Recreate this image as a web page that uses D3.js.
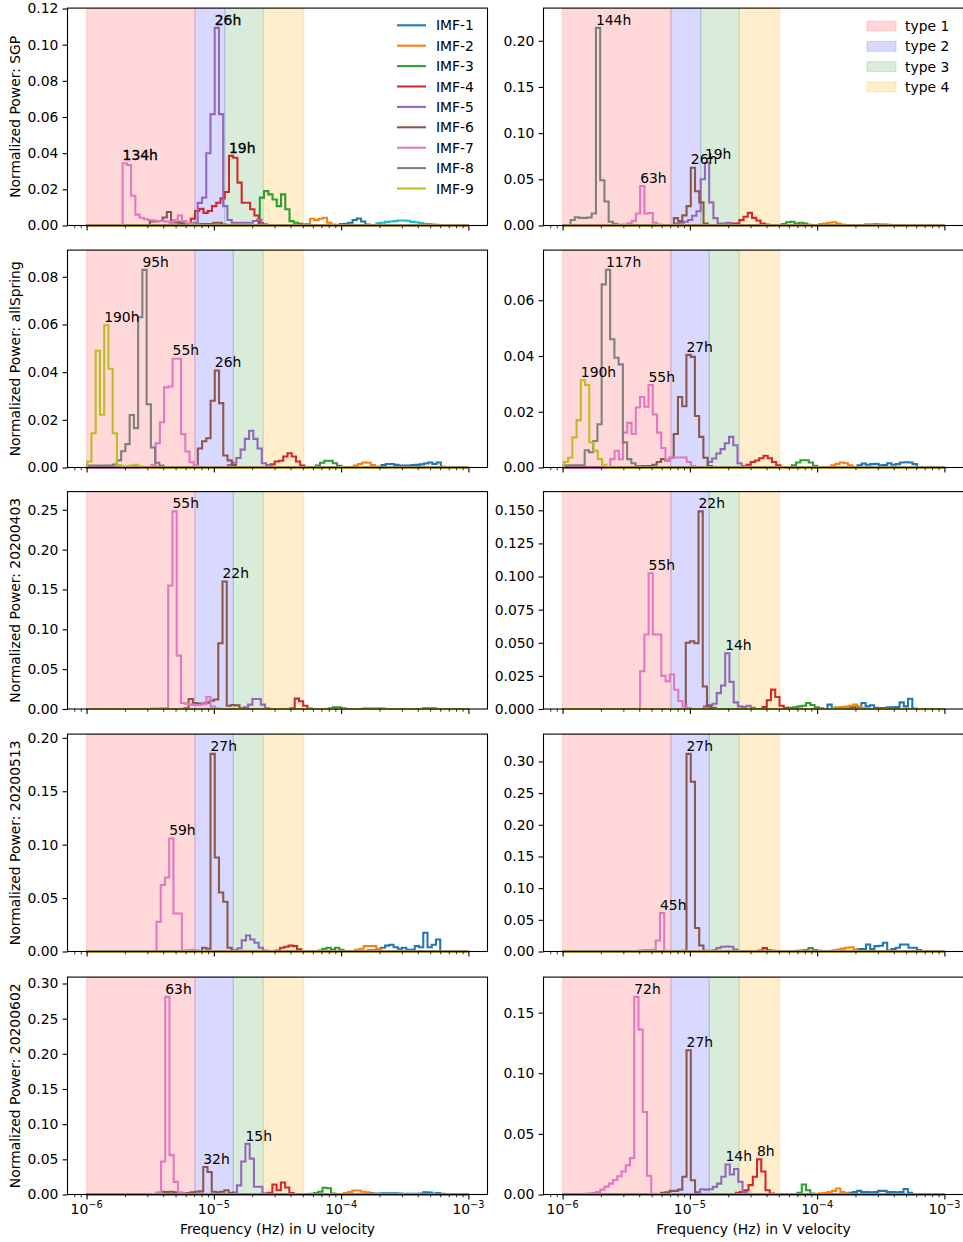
<!DOCTYPE html>
<html>
<head>
<meta charset="utf-8">
<script src="https://cdn.jsdelivr.net/npm/d3@7"></script>
<style>
body { margin: 0; background: #fff; }
svg text { font-family: "DejaVu Sans", sans-serif; fill: #000; }
</style>
</head>
<body>
<div id="chart"></div>
<script>
// ---------------- data ----------------
var imfNames = ["IMF-1", "IMF-2", "IMF-3", "IMF-4", "IMF-5", "IMF-6", "IMF-7", "IMF-8", "IMF-9"];
var imfColors = ["#1f77b4", "#ff7f0e", "#2ca02c", "#d62728", "#9467bd", "#8c564b", "#e377c2", "#7f7f7f", "#bcbd22", "#17becf"];
var rowNames = ["SGP", "allSpring", "20200403", "20200513", "20200602"];

var bandNames = ["type 1", "type 2", "type 3", "type 4"];
var bandColors = ["red", "blue", "green", "orange"];
var bandAlpha = [0.15, 0.15, 0.15, 0.2];
var bandEdgesSGP = [1e-6, 7.1e-6, 1.22e-5, 2.44e-5, 5.09e-5];
var bandEdges = [1e-6, 7.1e-6, 1.42e-5, 2.44e-5, 5.09e-5];

// histogram bins are 1/30 decade wide; start = log10 of first bin's left edge
var binWidth = 1 / 30;

var sgpU = [
    {imf: 10, start: -3.723, v: [0.0012, 0.0015, 0.002, 0.0022, 0.0024, 0.0028, 0.0028, 0.0026, 0.002, 0.0018, 0.0014, 0.001, 0.0008, 0.0006, 0.0004]},
    {imf: 1, start: -4.010, v: [0.0008, 0.001, 0.0015, 0.003, 0.0039, 0.0022, 0.0005]},
    {imf: 2, start: -4.277, v: [0.0008, 0.0037, 0.003, 0.0037, 0.0043, 0.0015, 0.0005]},
    {imf: 3, start: -4.639, v: [0.0154, 0.019, 0.0172, 0.0144, 0.0107, 0.0172, 0.009, 0.0024, 0.0015, 0.001, 0.0005]},
    {imf: 4, start: -5.348, v: [0.0005, 0.0005, 0.0005, 0.0005, 0.0005, 0.0037, 0.008, 0.0092, 0.007, 0.008, 0.0107, 0.0126, 0.015, 0.0185, 0.0385, 0.0375, 0.0237, 0.0126, 0.0126, 0.009, 0.0055, 0.0013, 0.0005]},
    {imf: 5, start: -5.160, v: [0.0015, 0.0125, 0.0154, 0.040, 0.0616, 0.1093, 0.0616, 0.0107, 0.003, 0.0015, 0.0015, 0.0015, 0.0015, 0.0015, 0.0025, 0.0033, 0.0005]},
    {imf: 6, start: -5.503, v: [0.0022, 0.0022, 0.0025, 0.0044, 0.0075, 0.0028, 0.002, 0.0012, 0.0008, 0.0008, 0.0008, 0.0008, 0.0008, 0.0008, 0.0008, 0.0015, 0.0015, 0.0005]},
    {imf: 7, start: -5.717, v: [0.0344, 0.0335, 0.0165, 0.006, 0.0043, 0.0035, 0.003, 0.0028, 0.0025, 0.0025, 0.0022, 0.002, 0.0025, 0.0055, 0.0025, 0.0012, 0.0008, 0.0005, 0.0003]}
];
var sgpV = [
    {imf: 1, start: -3.657, v: [0.0005, 0.001, 0.001, 0.0012, 0.001, 0.001, 0.0008, 0.0005]},
    {imf: 2, start: -3.984, v: [0.0015, 0.002, 0.003, 0.0036, 0.002, 0.001]},
    {imf: 3, start: -4.277, v: [0.0015, 0.0035, 0.004, 0.002, 0.003, 0.002, 0.0007]},
    {imf: 4, start: -4.678, v: [0.002, 0.002, 0.0058, 0.0094, 0.0137, 0.0083, 0.0054, 0.002, 0.001]},
    {imf: 5, start: -5.115, v: [0.002, 0.003, 0.004, 0.006, 0.0105, 0.0155, 0.05, 0.068, 0.025, 0.008, 0.002, 0.002, 0.003, 0.0008]},
    {imf: 6, start: -5.126, v: [0.008, 0.0047, 0.011, 0.021, 0.0626, 0.037, 0.025, 0.002, 0.0005]},
    {imf: 7, start: -5.524, v: [0.001, 0.0025, 0.005, 0.013, 0.0427, 0.013, 0.0135, 0.003, 0.001]},
    {imf: 8, start: -5.938, v: [0.006, 0.009, 0.0083, 0.0083, 0.0087, 0.013, 0.214, 0.049, 0.026, 0.004, 0.0018, 0.0007]}
];
var springU = [
    {imf: 1, start: -3.683, v: [0.001, 0.0015, 0.0015, 0.0011, 0.0008, 0.0008, 0.0008, 0.001, 0.0011, 0.0013, 0.0017, 0.0021, 0.0015, 0.0021, 0.0003]},
    {imf: 2, start: -3.901, v: [0.0008, 0.0015, 0.0021, 0.002, 0.001, 0.0004]},
    {imf: 3, start: -4.199, v: [0.0008, 0.002, 0.0028, 0.0028, 0.0018, 0.0007]},
    {imf: 4, start: -4.555, v: [0.0013, 0.0025, 0.0028, 0.0046, 0.006, 0.0046, 0.0025, 0.0008]},
    {imf: 5, start: -4.890, v: [0.001, 0.002, 0.004, 0.0075, 0.012, 0.0154, 0.012, 0.008, 0.0018, 0.001]},
    {imf: 6, start: -5.126, v: [0.008, 0.011, 0.0123, 0.028, 0.0407, 0.027, 0.005, 0.003, 0.001]},
    {imf: 7, start: -5.491, v: [0.001, 0.0102, 0.019, 0.0336, 0.034, 0.0456, 0.0456, 0.014, 0.0067, 0.0022, 0.0008]},
    {imf: 8, start: -5.995, v: [0.0008, 0.0008, 0.0008, 0.0008, 0.0008, 0.0008, 0.0012, 0.003, 0.0068, 0.0098, 0.022, 0.0165, 0.063, 0.0829, 0.0265, 0.0084, 0.002, 0.0008]},
    {imf: 9, start: -5.995, v: [0.0025, 0.0144, 0.049, 0.0221, 0.0597, 0.0414, 0.0144, 0.001, 0.0005, 0.0005, 0.0008, 0.0011, 0.0005]}
];
var springV = [
    {imf: 1, start: -3.683, v: [0.0008, 0.0014, 0.001, 0.0012, 0.0013, 0.0008, 0.0009, 0.0015, 0.001, 0.0012, 0.0018, 0.0019, 0.0018, 0.0012, 0.0002]},
    {imf: 2, start: -3.890, v: [0.0008, 0.0013, 0.0018, 0.0015, 0.0008]},
    {imf: 3, start: -4.199, v: [0.0008, 0.0018, 0.0026, 0.0026, 0.0018, 0.0006]},
    {imf: 4, start: -4.555, v: [0.001, 0.002, 0.0025, 0.0033, 0.0042, 0.0033, 0.002, 0.0008]},
    {imf: 5, start: -4.859, v: [0.002, 0.0032, 0.005, 0.0066, 0.0087, 0.011, 0.008, 0.0015, 0.0005]},
    {imf: 6, start: -5.427, v: [0.0005, 0.0005, 0.0005, 0.0005, 0.001, 0.002, 0.003, 0.0025, 0.0035, 0.012, 0.0253, 0.022, 0.0404, 0.0397, 0.0185, 0.011, 0.0035, 0.0005]},
    {imf: 7, start: -5.625, v: [0.003, 0.006, 0.003, 0.0125, 0.016, 0.012, 0.0215, 0.0253, 0.0218, 0.0296, 0.019, 0.0125, 0.007, 0.0025, 0.0035, 0.0036, 0.0036, 0.0036, 0.002, 0.0005]},
    {imf: 8, start: -5.993, v: [0.0008, 0.0008, 0.0008, 0.0008, 0.0008, 0.0062, 0.0055, 0.0095, 0.0155, 0.0657, 0.0709, 0.046, 0.0394, 0.037, 0.009, 0.003, 0.0015, 0.0005]},
    {imf: 9, start: -5.990, v: [0.002, 0.0035, 0.0108, 0.017, 0.0313, 0.0296, 0.009, 0.006, 0.003, 0.001]}
];
var d0403U = [
    {imf: 1, start: -3.356, v: [0.0008, 0.001, 0.0008]},
    {imf: 2, start: -3.827, v: [0.0008, 0.0008, 0.0008, 0.0008, 0.0008]},
    {imf: 3, start: -4.099, v: [0.001, 0.002, 0.002, 0.001]},
    {imf: 4, start: -4.398, v: [0.001, 0.013, 0.0097, 0.004, 0.0005]},
    {imf: 5, start: -4.764, v: [0.002, 0.0055, 0.0126, 0.0126, 0.0055, 0.001]},
    {imf: 6, start: -5.232, v: [0.001, 0.0126, 0.0076, 0.0067, 0.0067, 0.008, 0.0105, 0.012, 0.0825, 0.16, 0.004, 0.005, 0.0045, 0.001]},
    {imf: 7, start: -5.492, v: [0.0005, 0.0005, 0.0008, 0.001, 0.155, 0.248, 0.067, 0.0076, 0.0065, 0.0055, 0.005, 0.005, 0.006, 0.015, 0.003, 0.0005]}
];
var d0403V = [
    {imf: 1, start: -3.919, v: [0.0033, 0.001, 0.001, 0.001, 0.0012, 0.0015, 0.0015, 0.0012, 0.0045, 0.002, 0.0028, 0.001, 0.0008, 0.0008, 0.0012, 0.0012, 0.0015, 0.005, 0.002, 0.0078, 0.0003]},
    {imf: 2, start: -3.885, v: [0.0008, 0.0012, 0.0015, 0.0018, 0.0025, 0.0033, 0.002, 0.0008]},
    {imf: 3, start: -4.220, v: [0.001, 0.0013, 0.002, 0.0025, 0.0045, 0.003, 0.0012, 0.0005]},
    {imf: 4, start: -4.429, v: [0.0015, 0.0066, 0.0146, 0.009, 0.0025, 0.001]},
    {imf: 5, start: -4.889, v: [0.002, 0.003, 0.004, 0.012, 0.0177, 0.042, 0.0205, 0.005, 0.002, 0.0015, 0.0025, 0.001]},
    {imf: 6, start: -5.032, v: [0.05, 0.0512, 0.0497, 0.1492, 0.017, 0.002, 0.001]},
    {imf: 7, start: -5.391, v: [0.0285, 0.0563, 0.1025, 0.0563, 0.0563, 0.025, 0.021, 0.026, 0.0145, 0.006, 0.002, 0.0008]}
];
var d0513U = [
    {imf: 1, start: -3.788, v: [0.0012, 0.0012, 0.0018, 0.0035, 0.0055, 0.0063, 0.004, 0.0025, 0.0035, 0.0015, 0.0015, 0.005, 0.004, 0.0176, 0.004, 0.0063, 0.0113, 0.0002]},
    {imf: 2, start: -3.890, v: [0.0015, 0.0025, 0.005, 0.005, 0.005, 0.0025, 0.0005]},
    {imf: 3, start: -4.181, v: [0.001, 0.0025, 0.0035, 0.0018, 0.0035, 0.0015, 0.0005]},
    {imf: 4, start: -4.513, v: [0.001, 0.0035, 0.0045, 0.0055, 0.005, 0.002, 0.0005]},
    {imf: 5, start: -4.848, v: [0.001, 0.003, 0.0104, 0.015, 0.0113, 0.0082, 0.0035, 0.001]},
    {imf: 6, start: -5.093, v: [0.0035, 0.0025, 0.185, 0.088, 0.0553, 0.0465, 0.0035, 0.001]},
    {imf: 7, start: -5.451, v: [0.0277, 0.0623, 0.0692, 0.1057, 0.0355, 0.0355, 0.001, 0.0012, 0.0015, 0.001]}
];
var d0513V = [
    {imf: 1, start: -3.683, v: [0.004, 0.004, 0.011, 0.004, 0.0085, 0.009, 0.0137, 0.0015, 0.004, 0.006, 0.011, 0.011, 0.0058, 0.0058, 0.0025]},
    {imf: 2, start: -3.880, v: [0.002, 0.003, 0.0045, 0.006, 0.0068, 0.003]},
    {imf: 3, start: -4.168, v: [0.001, 0.0015, 0.0025, 0.0055, 0.0025, 0.001]},
    {imf: 4, start: -4.461, v: [0.0015, 0.0053, 0.002, 0.001]},
    {imf: 5, start: -4.825, v: [0.002, 0.0055, 0.0075, 0.008, 0.0075, 0.003, 0.0008]},
    {imf: 6, start: -5.093, v: [0.0008, 0.001, 0.312, 0.268, 0.037, 0.0095, 0.001]},
    {imf: 7, start: -5.435, v: [0.0008, 0.0015, 0.0025, 0.0025, 0.0028, 0.0174, 0.0606, 0.001]}
];
var d0602U = [
    {imf: 1, start: -3.788, v: [0.002, 0.0015, 0.0015, 0.0018, 0.0018, 0.0018, 0.0018, 0.0015, 0.001, 0.001, 0.001, 0.001, 0.0015, 0.003, 0.0028, 0.0015, 0.0022, 0.001]},
    {imf: 2, start: -3.979, v: [0.002, 0.0035, 0.0057, 0.0057, 0.004, 0.003, 0.0015, 0.0005]},
    {imf: 3, start: -4.246, v: [0.001, 0.002, 0.004, 0.0095, 0.009, 0.0015]},
    {imf: 4, start: -4.607, v: [0.0015, 0.0025, 0.0142, 0.006, 0.017, 0.01, 0.002, 0.0008]},
    {imf: 5, start: -4.885, v: [0.001, 0.003, 0.013, 0.047, 0.072, 0.051, 0.011, 0.011, 0.001]},
    {imf: 6, start: -5.450, v: [0.002, 0.0038, 0.0035, 0.0038, 0.003, 0.002, 0.0015, 0.002, 0.003, 0.004, 0.0045, 0.039, 0.032, 0.004, 0.003, 0.004, 0.006, 0.002, 0.0005]},
    {imf: 7, start: -5.482, v: [0.0005, 0.003, 0.047, 0.281, 0.056, 0.018, 0.003, 0.001]}
];
var d0602V = [
    {imf: 1, start: -3.754, v: [0.0015, 0.002, 0.003, 0.002, 0.002, 0.0018, 0.002, 0.003, 0.003, 0.002, 0.002, 0.0018, 0.002, 0.0045, 0.0015]},
    {imf: 2, start: -3.984, v: [0.001, 0.0015, 0.002, 0.003, 0.005, 0.002, 0.001]},
    {imf: 3, start: -4.154, v: [0.0015, 0.0083, 0.0035, 0.0008]},
    {imf: 4, start: -4.639, v: [0.0015, 0.002, 0.0035, 0.0077, 0.0146, 0.029, 0.019, 0.0035, 0.0008]},
    {imf: 5, start: -4.953, v: [0.002, 0.0044, 0.004, 0.0044, 0.0063, 0.009, 0.0146, 0.0248, 0.0165, 0.021, 0.0105, 0.002, 0.0005]},
    {imf: 6, start: -5.226, v: [0.0015, 0.0018, 0.003, 0.003, 0.004, 0.0146, 0.119, 0.0118, 0.001]},
    {imf: 7, start: -5.837, v: [0.0005, 0.0008, 0.0012, 0.002, 0.004, 0.0065, 0.009, 0.012, 0.015, 0.019, 0.024, 0.03, 0.163, 0.136, 0.068, 0.0154, 0.0005]}
];

// peak annotations: [imf, label]
var peaksU = [
    [[7, "134h"], [5, "26h"], [4, "19h"]],
    [[9, "190h"], [8, "95h"], [7, "55h"], [6, "26h"]],
    [[7, "55h"], [6, "22h"]],
    [[7, "59h"], [6, "27h"]],
    [[7, "63h"], [6, "32h"], [5, "15h"]]
];
var peaksV = [
    [[8, "144h"], [7, "63h"], [6, "26h"], [5, "19h"]],
    [[9, "190h"], [8, "117h"], [7, "55h"], [6, "27h"]],
    [[7, "55h"], [6, "22h"], [5, "14h"]],
    [[7, "45h"], [6, "27h"]],
    [[7, "72h"], [6, "27h"], [5, "14h"], [4, "8h"]]
];

var yTicksU = [
    [0, 0.02, 0.04, 0.06, 0.08, 0.10, 0.12],
    [0, 0.02, 0.04, 0.06, 0.08],
    [0, 0.05, 0.10, 0.15, 0.20, 0.25],
    [0, 0.05, 0.10, 0.15, 0.20],
    [0, 0.05, 0.10, 0.15, 0.20, 0.25, 0.30]
];
var yTicksV = [
    [0, 0.05, 0.10, 0.15, 0.20],
    [0, 0.02, 0.04, 0.06],
    [0, 0.025, 0.05, 0.075, 0.10, 0.125, 0.15],
    [0, 0.05, 0.10, 0.15, 0.20, 0.25, 0.30],
    [0, 0.05, 0.10, 0.15]
];
var yFormatV = [".2f", ".2f", ".3f", ".2f", ".2f"];

var xMajor = [1e-6, 1e-5, 1e-4, 1e-3];
var xMajorExp = ["\u22126", "\u22125", "\u22124", "\u22123"];

// ---------------- layout ----------------
var fs = 13.9;
var colLeft = [67.5, 543.5];
var axW = 420, axH = 217.4;
var rowBottom = [225.5, 467.5, 709, 951.5, 1194.5];
var drawOrder = [10, 1, 2, 3, 4, 5, 6, 7, 8, 9];

var svg = d3.select("#chart").append("svg")
    .attr("width", 963)
    .attr("height", 1242);

var xMinor = [];
for (var e = -7; e <= -3; e++) {
    for (var m = 2; m <= 9; m++) {
        var mv = m * Math.pow(10, e);
        if (mv > Math.pow(10, -6.15) && mv < Math.pow(10, -2.85)) xMinor.push(mv);
    }
}

function drawPanel(col, row, series, peaks, ticks, fmt) {
    var left = colLeft[col];
    var bottom = rowBottom[row];
    var top = bottom - axH;

    var x = d3.scaleLog()
        .domain([Math.pow(10, -6.15), Math.pow(10, -2.85)])
        .range([left, left + axW]);
    var ymax = d3.max(series, function(s) { return d3.max(s.v); }) * 1.1;
    var y = d3.scaleLinear()
        .domain([0, ymax])
        .range([bottom, top]);

    var g = svg.append("g");
    var edges = row == 0 ? bandEdgesSGP : bandEdges;

    // shaded frequency bands
    g.selectAll("rect.band").data(bandColors).enter()
        .append("rect")
        .attr("class", "band")
        .attr("x", function(d, i) { return x(edges[i]); })
        .attr("width", function(d, i) { return x(edges[i + 1]) - x(edges[i]); })
        .attr("y", top)
        .attr("height", axH)
        .attr("fill", function(d) { return d; })
        .attr("fill-opacity", function(d, i) { return bandAlpha[i]; })
        .attr("stroke", function(d) { return d; })
        .attr("stroke-opacity", function(d, i) { return bandAlpha[i]; })
        .attr("stroke-width", 1);

    // step histograms
    var line = d3.line()
        .x(function(d) { return x(Math.pow(10, d[0])); })
        .y(function(d) { return y(d[1]); })
        .curve(d3.curveStepAfter);

    drawOrder.forEach(function(imf) {
        var s = series.find(function(d) { return d.imf == imf; });
        if (!s && imf > 9) return;
        var pts = [[-6, 0]];
        if (s) {
            s.v.forEach(function(v, k) { pts.push([s.start + k * binWidth, v]); });
            pts.push([s.start + s.v.length * binWidth, 0]);
        }
        pts.push([-3, 0]);
        g.append("path")
            .attr("d", line(pts))
            .attr("fill", "none")
            .attr("stroke", imfColors[imf - 1])
            .attr("stroke-width", 2.08);
    });

    // peak labels (the SGP U panel labels are drawn twice in the original, so heavier)
    peaks.forEach(function(p) {
        var s = series.find(function(d) { return d.imf == p[0]; });
        var k = d3.maxIndex(s.v);
        var t = g.append("text")
            .attr("x", x(Math.pow(10, s.start + k * binWidth)))
            .attr("y", y(s.v[k]) - 3.3)
            .attr("font-size", fs + "px")
            .text(p[1]);
        if (row == 0 && col == 0) {
            t.attr("stroke", "#000").attr("stroke-width", 0.35);
        }
    });

    // y axis
    var yAxis = d3.axisLeft(y)
        .tickValues(ticks)
        .tickFormat(d3.format(fmt))
        .tickSize(4.9)
        .tickPadding(4.2);
    var ya = g.append("g")
        .attr("transform", "translate(" + left + ",0)")
        .call(yAxis);
    ya.select(".domain").remove();
    ya.selectAll("line").attr("stroke-width", 1.1);
    ya.selectAll("text").attr("font-size", fs + "px").attr("font-family", "DejaVu Sans");

    // x axis (major + minor ticks)
    var xa = g.append("g")
        .attr("transform", "translate(0," + bottom + ")")
        .call(d3.axisBottom(x).tickValues(xMajor).tickSize(4.9).tickFormat(""));
    xa.select(".domain").remove();
    xa.selectAll("line").attr("stroke-width", 1.1);
    var xm = g.append("g")
        .attr("transform", "translate(0," + bottom + ")")
        .call(d3.axisBottom(x).tickValues(xMinor).tickSize(2.8).tickFormat(""));
    xm.select(".domain").remove();
    xm.selectAll("line").attr("stroke-width", 0.8);

    if (row == rowNames.length - 1) {
        xMajor.forEach(function(v, i) {
            var t = g.append("text")
                .attr("x", x(v))
                .attr("y", bottom + 19.5)
                .attr("text-anchor", "middle")
                .attr("font-size", fs + "px");
            t.append("tspan").text("10");
            t.append("tspan")
                .attr("dy", -6.2)
                .attr("font-size", (fs * 0.7) + "px")
                .text(xMajorExp[i]);
        });
    }

    // frame
    g.append("rect")
        .attr("x", left)
        .attr("y", top)
        .attr("width", axW)
        .attr("height", axH)
        .attr("fill", "none")
        .attr("stroke", "#000")
        .attr("stroke-width", 1.1);

    if (col == 0) {
        svg.append("text")
            .attr("transform", "translate(20," + ((top + bottom) / 2) + ") rotate(-90)")
            .attr("text-anchor", "middle")
            .attr("font-size", fs + "px")
            .text("Normalized Power: " + rowNames[row]);
    }
}

var panelsU = [sgpU, springU, d0403U, d0513U, d0602U];
var panelsV = [sgpV, springV, d0403V, d0513V, d0602V];

rowNames.forEach(function(name, r) {
    drawPanel(0, r, panelsU[r], peaksU[r], yTicksU[r], ".2f");
    drawPanel(1, r, panelsV[r], peaksV[r], yTicksV[r], yFormatV[r]);
});

// x axis titles
svg.append("text")
    .attr("x", colLeft[0] + axW / 2)
    .attr("y", 1233.5)
    .attr("text-anchor", "middle")
    .attr("font-size", fs + "px")
    .text("Frequency (Hz) in U velocity");
svg.append("text")
    .attr("x", colLeft[1] + axW / 2)
    .attr("y", 1233.5)
    .attr("text-anchor", "middle")
    .attr("font-size", fs + "px")
    .text("Frequency (Hz) in V velocity");

// legend of IMFs (top left panel)
var legIMF = svg.append("g");
imfNames.forEach(function(name, i) {
    var cy = 25.3 + i * 20.4;
    legIMF.append("line")
        .attr("x1", 397).attr("x2", 426)
        .attr("y1", cy).attr("y2", cy)
        .attr("stroke", imfColors[i])
        .attr("stroke-width", 2.08);
    legIMF.append("text")
        .attr("x", 436)
        .attr("y", cy + 5)
        .attr("font-size", fs + "px")
        .text(name);
});

// legend of band types (top right panel)
var legBand = svg.append("g");
bandNames.forEach(function(name, i) {
    var cy = 26 + i * 20.3;
    legBand.append("rect")
        .attr("x", 867).attr("y", cy - 5)
        .attr("width", 29).attr("height", 10)
        .attr("fill", bandColors[i])
        .attr("fill-opacity", bandAlpha[i])
        .attr("stroke", bandColors[i])
        .attr("stroke-opacity", bandAlpha[i]);
    legBand.append("text")
        .attr("x", 905)
        .attr("y", cy + 5)
        .attr("font-size", fs + "px")
        .text(name);
});
</script>
</body>
</html>
